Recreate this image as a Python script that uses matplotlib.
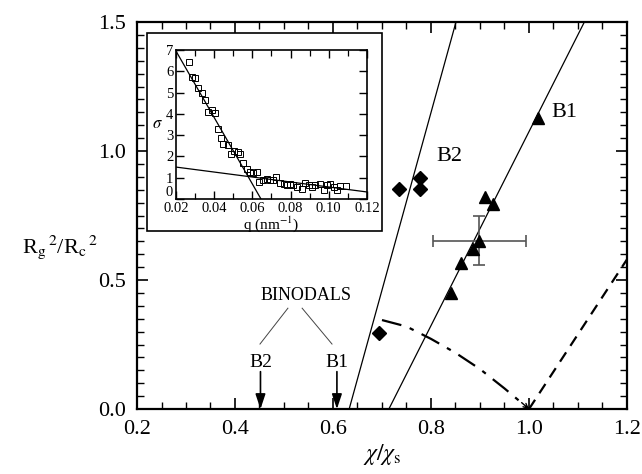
import matplotlib
matplotlib.use("Agg")
import matplotlib.pyplot as plt
from matplotlib.patches import Rectangle
from matplotlib.ticker import MultipleLocator

plt.rcParams['font.family'] = ['Liberation Serif', 'DejaVu Serif']
plt.rcParams['mathtext.fontset'] = 'stix'

# ---- main data ----
b1_x = [1.018, 0.910, 0.927, 0.898, 0.886, 0.861, 0.841]
b1_y = [1.128, 0.822, 0.795, 0.651, 0.620, 0.566, 0.450]
b2_x = [0.735, 0.778, 0.778, 0.694]
b2_y = [0.853, 0.895, 0.853, 0.295]
err_x, err_y = 0.899, 0.652
err_dx, err_dy = 0.095, 0.095

b1_line_x = [0.714, 1.113]
b1_line_y = [0.0, 1.5]
b2_line_x = [0.633, 0.851]
b2_line_y = [0.0, 1.5]

spin_x = [0.700, 0.750, 0.800, 0.850, 0.900, 0.950, 1.000]
spin_y = [0.345, 0.320, 0.272, 0.218, 0.155, 0.080, 0.000]
dash_x = [1.0, 1.2]
dash_y = [0.0, 0.58]

binodal_b2 = 0.452
binodal_b1 = 0.608

# ---- inset data ----
q = [0.0270, 0.0282, 0.0300, 0.0317, 0.0335, 0.0352, 0.0370, 0.0387, 0.0405,
     0.0419, 0.0436, 0.0448, 0.0471, 0.0487, 0.0504, 0.0522, 0.0536, 0.0553,
     0.0571, 0.0585, 0.0602, 0.0623, 0.0637, 0.0658, 0.0676, 0.0693, 0.0710,
     0.0724, 0.0742, 0.0763, 0.0780, 0.0798, 0.0815, 0.0833, 0.0859, 0.0877,
     0.0894, 0.0912, 0.0929, 0.0955, 0.0973, 0.0990, 0.1008, 0.1025, 0.1043,
     0.1060, 0.1090]
sigma = [6.42, 5.75, 5.69, 5.22, 4.97, 4.66, 4.11, 4.19, 4.03,
         3.30, 2.88, 2.59, 2.52, 2.13, 2.25, 2.20, 2.13, 1.69,
         1.42, 1.27, 1.22, 1.27, 0.80, 0.91, 0.95, 0.88, 0.88,
         1.03, 0.75, 0.72, 0.67, 0.69, 0.64, 0.56, 0.48, 0.75,
         0.67, 0.56, 0.64, 0.72, 0.44, 0.64, 0.69, 0.56, 0.41,
         0.59, 0.59]
steep_x = [0.020, 0.0645]
steep_y = [6.95, 0.0]
flat_x = [0.020, 0.120]
flat_y = [1.50, 0.33]

fig = plt.figure(figsize=(6.42, 4.74), dpi=100)
ax = fig.add_axes([0.2134, 0.137, 0.7632, 0.8165])

ax.plot(b1_line_x, b1_line_y, color='black', lw=0.9)
ax.plot(b2_line_x, b2_line_y, color='black', lw=0.9)
ax.errorbar([err_x], [err_y], xerr=[err_dx], yerr=[err_dy], fmt='none',
            ecolor='#555555', elinewidth=1.2, capsize=4, capthick=1.2, zorder=2)
ax.plot(b1_x, b1_y, linestyle='none', marker='^', ms=9, color='black', zorder=3)
ax.plot(b2_x, b2_y, linestyle='none', marker='D', ms=7, color='black', zorder=3)
ax.plot(spin_x, spin_y, color='black', lw=1.6, dashes=[9, 4, 2, 4])
ax.plot(dash_x, dash_y, color='black', lw=1.6, dashes=[5, 3.5])
ax.annotate('', xy=(1.0, 0.0), xytext=(0.985, 0.025),
            arrowprops=dict(arrowstyle='->', color='black', lw=1.0,
                            shrinkA=0, shrinkB=0, mutation_scale=8))

for xb, lab in [(binodal_b2, 'B2'), (binodal_b1, 'B1')]:
    ax.annotate('', xy=(xb, 0.0), xytext=(xb, 0.145),
                arrowprops=dict(arrowstyle='-|>,head_length=0.9,head_width=0.3',
                                color='black', lw=1.2, shrinkA=0, shrinkB=0))
    ax.text(xb, 0.182, lab, ha='center', va='center', fontsize=14)
ax.text(0.545, 0.442, 'BINODALS', ha='center', va='center', fontsize=13)
ax.plot([0.508, 0.451], [0.391, 0.252], color='#444444', lw=0.7)
ax.plot([0.537, 0.598], [0.391, 0.252], color='#444444', lw=0.7)

ax.text(1.045, 1.15, 'B1', ha='left', va='center', fontsize=16)
ax.text(0.81, 0.98, 'B2', ha='left', va='center', fontsize=16)

ax.set_xlim(0.2, 1.2)
ax.set_ylim(0.0, 1.5)
ax.xaxis.set_major_locator(MultipleLocator(0.2))
ax.xaxis.set_minor_locator(MultipleLocator(0.05))
ax.yaxis.set_major_locator(MultipleLocator(0.5))
ax.yaxis.set_minor_locator(MultipleLocator(0.05))
ax.tick_params(which='both', direction='in', top=True, right=True)
ax.tick_params(which='major', length=8, width=1.2, labelsize=16, pad=8)
ax.tick_params(which='minor', length=5, width=1.0)
ax.set_xticklabels([f'{v:.1f}' for v in ax.get_xticks()])
ax.set_yticklabels([f'{v:.1f}' for v in ax.get_yticks()])
for s in ax.spines.values():
    s.set_linewidth(1.6)
ax.set_xlabel(r'$\chi/\chi_\mathrm{s}$', fontsize=17, labelpad=2)
fig.text(60 / 642, 1 - 247 / 474, r'R$_\mathrm{g}$$^{\,2}$/R$_\mathrm{c}$$^{\,2}$',
         fontsize=16, ha='center', va='center')

# inset frame
box = Rectangle((147 / 642, 1 - 231 / 474), 235 / 642, 198 / 474,
                transform=fig.transFigure, facecolor='white', edgecolor='black',
                lw=1.2, zorder=5)
fig.patches.append(box)

ins = fig.add_axes([176 / 642, 1 - 199 / 474, 191 / 642, 149 / 474])
ins.set_zorder(10)
ins.plot(steep_x, steep_y, color='black', lw=0.9)
ins.plot(flat_x, flat_y, color='black', lw=0.9)
ins.plot(q, sigma, linestyle='none', marker='s', ms=5, mfc='none',
         mec='black', mew=0.7)
ins.set_xlim(0.02, 0.12)
ins.set_ylim(0, 7)
ins.xaxis.set_major_locator(MultipleLocator(0.02))
ins.xaxis.set_minor_locator(MultipleLocator(0.01))
ins.yaxis.set_major_locator(MultipleLocator(1))
ins.tick_params(which='both', direction='in', top=True, right=True)
ins.tick_params(which='major', length=6, width=1.0, labelsize=10.5, pad=2)
ins.tick_params(which='minor', length=4, width=0.9)
ins.set_xticklabels([f'{v:.2f}' for v in ins.get_xticks()])
ins.set_yticks(range(0, 8))
ins.set_yticklabels([str(v) for v in range(0, 8)])
ins.get_yticklabels()[0].set_verticalalignment('bottom')
for s in ins.spines.values():
    s.set_linewidth(1.2)
ins.set_xlabel(r'q (nm$^{-1}$)', fontsize=11, labelpad=0)
ins.set_ylabel(r'$\sigma$', fontsize=12, rotation=0, labelpad=6, va='center')

fig.savefig('out.png', dpi=100)
